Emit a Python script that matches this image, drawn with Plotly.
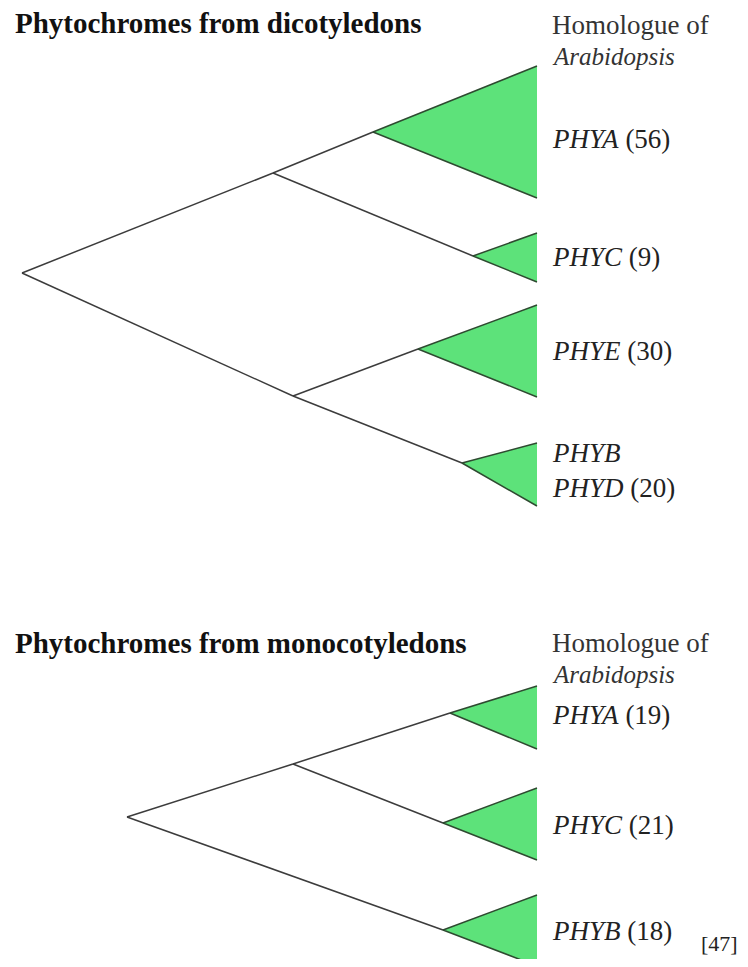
import plotly.graph_objects as go

# tree geometry (x = branch depth, y = vertical position)
dicot_node_names = ["root", "a", "b"]
dicot_node_x = [22, 273, 293]
dicot_node_y = [273, 173, 396]
dicot_node_parent = [None, "root", "root"]

dicot_genes = [["PHYA"], ["PHYC"], ["PHYE"], ["PHYB", "PHYD"]]
dicot_counts = [56, 9, 30, 20]
dicot_clade_parent = ["a", "a", "b", "b"]
dicot_apex_x = [373, 473, 418, 462]
dicot_apex_y = [132, 256, 349, 463]
dicot_clade_top = [66, 233, 305, 443]
dicot_clade_bottom = [198, 282, 397, 506]
dicot_label_y = [139, 257, 351, 470]

mono_node_names = ["root", "a"]
mono_node_x = [127, 293]
mono_node_y = [817, 764]
mono_node_parent = [None, "root"]

mono_genes = [["PHYA"], ["PHYC"], ["PHYB"]]
mono_counts = [19, 21, 18]
mono_clade_parent = ["a", "a", "root"]
mono_apex_x = [450, 443, 443]
mono_apex_y = [713, 823, 930]
mono_clade_top = [686, 788, 895]
mono_clade_bottom = [749, 860, 966]
mono_label_y = [715, 825, 931]

tip_x = 537
label_x = 550

titles = ["Phytochromes from dicotyledons", "Phytochromes from monocotyledons"]
title_y = [23, 643]
header_y = [25, 643]
source = "[47]"

serif = "Liberation Serif, Times New Roman, serif"
green = "#5de27a"
edge_green = "#2e4a30"
branch = "#3c3c3c"

# the page has an 8px body margin; keep the figure inside the window
pad = 8
W, H = 748, 967

fig = go.Figure()


def add_tree(names, nx, ny, parents, c_parent, ax, ay, top, bottom):
    pos = {n: (x, y) for n, x, y in zip(names, nx, ny)}
    bx, by = [], []
    for n, p in zip(names, parents):
        if p is None:
            continue
        bx += [pos[p][0], pos[n][0], None]
        by += [pos[p][1], pos[n][1], None]
    for p, x, y in zip(c_parent, ax, ay):
        bx += [pos[p][0], x, None]
        by += [pos[p][1], y, None]
    fig.add_trace(go.Scatter(x=bx, y=by, mode="lines",
                             line=dict(color=branch, width=1.5), hoverinfo="skip"))
    tx, ty, ex, ey = [], [], [], []
    for x, y, t, b in zip(ax, ay, top, bottom):
        tx += [x, tip_x, tip_x, x, None]
        ty += [y, t, b, y, None]
        ex += [tip_x, x, tip_x, None]
        ey += [t, y, b, None]
    fig.add_trace(go.Scatter(x=tx, y=ty, mode="lines", fill="toself",
                             fillcolor=green, line=dict(width=0), hoverinfo="skip"))
    fig.add_trace(go.Scatter(x=ex, y=ey, mode="lines",
                             line=dict(color=edge_green, width=1.5), hoverinfo="skip"))


add_tree(dicot_node_names, dicot_node_x, dicot_node_y, dicot_node_parent,
         dicot_clade_parent, dicot_apex_x, dicot_apex_y, dicot_clade_top, dicot_clade_bottom)
add_tree(mono_node_names, mono_node_x, mono_node_y, mono_node_parent,
         mono_clade_parent, mono_apex_x, mono_apex_y, mono_clade_top, mono_clade_bottom)


def gene_label(genes, count):
    lines = ["<i>%s</i>" % g for g in genes]
    lines[-1] += " (%d)" % count
    return "<br>".join(lines)


for genes, c, y in zip(dicot_genes + mono_genes, dicot_counts + mono_counts,
                       dicot_label_y + mono_label_y):
    fig.add_annotation(x=label_x, y=y, text=gene_label(genes, c), showarrow=False,
                       xanchor="left", yanchor="middle", align="left",
                       font=dict(family=serif, size=27, color="#222222"))

for t, ty, hy in zip(titles, title_y, header_y):
    fig.add_annotation(x=13, y=ty, text="<b>%s</b>" % t, showarrow=False,
                       xanchor="left", yanchor="middle",
                       font=dict(family=serif, size=29, color="#111111"))
    fig.add_annotation(x=label_x, y=hy, text="Homologue of", showarrow=False,
                       xanchor="left", yanchor="middle",
                       font=dict(family=serif, size=27, color="#333333"))
    fig.add_annotation(x=label_x, y=hy + 31, text="<i>Arabidopsis</i>", showarrow=False,
                       xanchor="left", yanchor="middle",
                       font=dict(family=serif, size=25, color="#333333"))

fig.add_annotation(x=W - pad, y=H - pad - 1, text=source, showarrow=False,
                   xanchor="right", yanchor="bottom",
                   font=dict(family=serif, size=22, color="#222222"))

fig.update_layout(width=W - 2 * pad, height=H - 2 * pad, margin=dict(l=0, r=0, t=0, b=0),
                  showlegend=False, plot_bgcolor="white", paper_bgcolor="white",
                  xaxis=dict(range=[pad, W - pad], visible=False, fixedrange=True),
                  yaxis=dict(range=[H - pad, pad], visible=False, fixedrange=True))

fig.write_html("out.html")
